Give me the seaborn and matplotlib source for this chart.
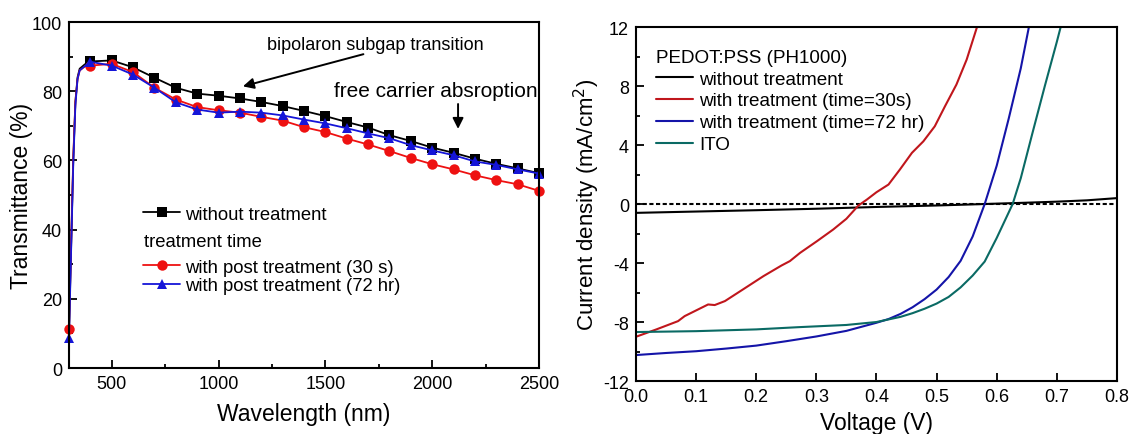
import numpy as np
import matplotlib
matplotlib.use("Agg")
import matplotlib.pyplot as plt
from matplotlib.ticker import MultipleLocator, FormatStrFormatter
from matplotlib.lines import Line2D
import seaborn as sns

# ---------------- transmittance spectra ----------------
wavelength = [300, 310, 320, 330, 340, 350, 375,
              400, 500, 600, 700, 800, 900, 1000, 1100, 1200, 1300, 1400,
              1500, 1600, 1700, 1800, 1900, 2000, 2100, 2200, 2300, 2400, 2500]
t_untreated = [10.0, 35, 60, 77, 84, 86.5, 87.8,
               88.6, 88.9, 86.9, 83.9, 81.0, 79.3, 78.7, 77.9, 76.9, 75.7, 74.3,
               72.8, 71.1, 69.5, 67.3, 65.6, 63.7, 62.2, 60.5, 59.0, 57.7, 56.3]
t_30s = [11.3, 36, 61, 77, 83.5, 86, 87.2,
         87.4, 87.9, 85.5, 81.0, 77.6, 75.4, 74.5, 73.8, 72.6, 71.5, 69.6,
         68.2, 66.3, 64.6, 62.7, 60.7, 58.9, 57.4, 55.7, 54.3, 53.1, 51.2]
t_72hr = [8.6, 34, 59, 76, 83.5, 86, 87.3,
          88.5, 87.4, 84.8, 81.0, 76.8, 74.7, 73.8, 74.1, 73.8, 73.0, 71.8,
          70.7, 69.3, 67.8, 66.4, 64.4, 62.9, 61.5, 59.7, 58.7, 57.4, 56.2]
spectra_labels = ["without treatment", "with post treatment (30 s)",
                  "with post treatment (72 hr)"]

# ---------------- J-V curves ----------------
v_untreated = [0, 0.1, 0.2, 0.3, 0.4, 0.5, 0.58, 0.65, 0.7, 0.75, 0.8]
j_untreated = [-0.6, -0.51, -0.42, -0.32, -0.2, -0.1, 0.0, 0.09, 0.16, 0.25, 0.4]

v_30s = [0, 0.034, 0.07, 0.081, 0.12, 0.131, 0.148, 0.178, 0.212, 0.242, 0.256,
         0.273, 0.301, 0.328, 0.35, 0.37, 0.384, 0.4, 0.42, 0.439, 0.459, 0.478,
         0.497, 0.514, 0.533, 0.55, 0.568]
j_30s = [-9.0, -8.5, -7.94, -7.6, -6.81, -6.85, -6.58, -5.79, -4.89, -4.17, -3.87,
         -3.31, -2.52, -1.73, -1.0, -0.1, 0.3, 0.8, 1.32, 2.34, 3.47, 4.25,
         5.27, 6.63, 8.1, 9.79, 12.1]

v_72hr = [0, 0.05, 0.1, 0.15, 0.2, 0.25, 0.3, 0.35, 0.4, 0.42, 0.44, 0.46,
          0.48, 0.5, 0.52, 0.54, 0.56, 0.58, 0.6, 0.62, 0.64, 0.654]
j_72hr = [-10.24, -10.1, -9.98, -9.8, -9.6, -9.3, -8.98, -8.6, -8.05, -7.8,
          -7.45, -7.0, -6.45, -5.8, -4.95, -3.85, -2.2, 0.0, 2.6, 5.8, 9.2, 12.1]

v_ito = [0, 0.1, 0.2, 0.27, 0.35, 0.4, 0.44, 0.46, 0.48, 0.5, 0.52, 0.54, 0.56,
         0.58, 0.6, 0.6265, 0.64, 0.66, 0.68, 0.7, 0.707]
j_ito = [-8.68, -8.62, -8.5, -8.35, -8.2, -8.0, -7.65, -7.4, -7.1, -6.75, -6.3,
         -5.65, -4.85, -3.9, -2.3, 0.0, 1.75, 4.9, 8.0, 11.0, 12.1]
jv_labels = ["without treatment", "with treatment (time=30s)",
             "with treatment (time=72 hr)", "ITO"]

sns.set_theme(style="ticks")
plt.rcParams["font.family"] = ["Liberation Sans", "DejaVu Sans"]
plt.rcParams["axes.unicode_minus"] = False
plt.rcParams["axes.linewidth"] = 1.5
for key in ("text.color", "axes.labelcolor", "xtick.color", "ytick.color",
            "axes.edgecolor"):
    plt.rcParams[key] = "black"

fig = plt.figure(figsize=(11.31, 4.35), dpi=100)
ax1 = fig.add_axes([0.0610, 0.1517, 0.4156, 0.7954])
ax2 = fig.add_axes([0.5623, 0.1218, 0.4253, 0.8138])

for ax in (ax1, ax2):
    for s in ax.spines.values():
        s.set_visible(True)
        s.set_linewidth(1.5)
        s.set_color("black")
    ax.tick_params(which="both", direction="in", top=False, right=False,
                   colors="black", width=1.3)
    ax.tick_params(which="major", length=5.5, pad=5)
    ax.tick_params(which="minor", length=3)

# ---- left: transmittance ----
mk_all = [0] + list(range(7, len(wavelength)))
mk_sq = list(range(7, len(wavelength)))
sns.lineplot(x=wavelength, y=t_untreated, ax=ax1, color="black", lw=1.3,
             marker="s", markersize=6.5, markeredgewidth=0, markevery=mk_sq,
             sort=False, clip_on=False)
sns.lineplot(x=wavelength, y=t_30s, ax=ax1, color="#ee1111", lw=1.3,
             marker="o", markersize=7.5, markeredgewidth=0, markevery=mk_all,
             sort=False, clip_on=False)
sns.lineplot(x=wavelength, y=t_72hr, ax=ax1, color="#1515d8", lw=1.3,
             marker="^", markersize=7.5, markeredgewidth=0, markevery=mk_all,
             sort=False, clip_on=False)

ax1.set_xlim(300, 2500)
ax1.set_ylim(0, 100)
ax1.xaxis.set_major_locator(MultipleLocator(500))
ax1.xaxis.set_minor_locator(MultipleLocator(250))
ax1.yaxis.set_major_locator(MultipleLocator(20))
ax1.yaxis.set_minor_locator(MultipleLocator(10))
ax1.tick_params(labelsize=13)
ax1.set_xlabel("Wavelength (nm)", fontsize=16.5, labelpad=7)
ax1.set_ylabel("Transmittance (%)", fontsize=16.5, labelpad=-1)

h_black = Line2D([], [], color="black", lw=1.3, marker="s", markersize=6.5,
                 markeredgewidth=0)
h_red = Line2D([], [], color="#ee1111", lw=1.3, marker="o", markersize=7.5,
               markeredgewidth=0)
h_blue = Line2D([], [], color="#1515d8", lw=1.3, marker="^", markersize=7.5,
                markeredgewidth=0)
leg_a = ax1.legend([h_black], spectra_labels[:1], loc="center left",
                   bbox_to_anchor=(0.1585, 0.445), frameon=False, fontsize=13.3,
                   borderpad=0, borderaxespad=0, handlelength=2.0,
                   handletextpad=0.25)
ax1.add_artist(leg_a)
ax1.legend([h_red, h_blue], spectra_labels[1:], loc="center left",
           bbox_to_anchor=(0.1585, 0.265), frameon=False, fontsize=13.3,
           borderpad=0, borderaxespad=0, handlelength=2.0, handletextpad=0.25,
           labelspacing=0.08)
ax1.text(653, 36.5, "treatment time", fontsize=13.3, va="center", ha="left")

ax1.text(1227, 93.4, "bipolaron subgap transition", fontsize=13, va="center",
         ha="left")
ax1.annotate("", xy=(1114, 81.4), xytext=(1678, 90.7),
             arrowprops=dict(arrowstyle="-|>", color="black", lw=1.4,
                             mutation_scale=16, shrinkA=0, shrinkB=0))
ax1.text(1540, 80.1, "free carrier absroption", fontsize=15, va="center",
         ha="left")
ax1.annotate("", xy=(2121, 69.1), xytext=(2121, 76.3),
             arrowprops=dict(arrowstyle="-|>", color="black", lw=1.4,
                             mutation_scale=16, shrinkA=0, shrinkB=0))

# ---- right: J-V ----
ax2.axhline(0, color="black", lw=1.5, ls=(0, (2, 1.2)), zorder=1)
jv_colors = ["black", "#c0161c", "#1414a8", "#0a6a64"]
for v, j, c, lab in zip([v_untreated, v_30s, v_72hr, v_ito],
                        [j_untreated, j_30s, j_72hr, j_ito], jv_colors, jv_labels):
    sns.lineplot(x=v, y=j, ax=ax2, color=c, lw=1.5, label=lab, sort=False)

ax2.set_xlim(0, 0.8)
ax2.set_ylim(-12, 12)
ax2.xaxis.set_major_locator(MultipleLocator(0.1))
ax2.xaxis.set_major_formatter(FormatStrFormatter("%.1f"))
ax2.yaxis.set_major_locator(MultipleLocator(4))
ax2.yaxis.set_minor_locator(MultipleLocator(2))
ax2.tick_params(labelsize=13)
ax2.set_xlabel("Voltage (V)", fontsize=16.5, labelpad=4)
ax2.set_ylabel("Current density (mA/cm$^2$)", fontsize=16, labelpad=1)

leg = ax2.legend(loc="upper left", bbox_to_anchor=(0.041, 0.939), frameon=False,
                 fontsize=13.6, title="PEDOT:PSS (PH1000)", title_fontsize=13.6,
                 alignment="left", borderpad=0, borderaxespad=0,
                 handlelength=2.0, handletextpad=0.3, labelspacing=0.25)

fig.savefig("out.png", dpi=100)
